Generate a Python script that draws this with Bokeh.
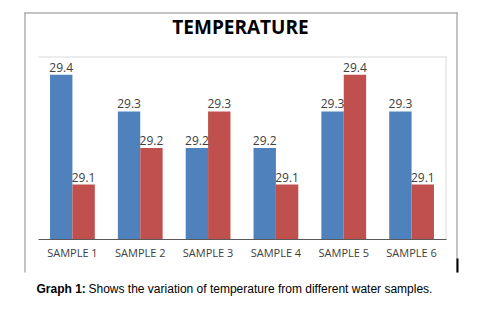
from bokeh.plotting import figure
from bokeh.models import FactorRange, Range1d, ColumnDataSource, LabelSet, Label, BoxAnnotation
from bokeh.core.properties import value
from bokeh.transform import dodge
from bokeh.embed import file_html
from bokeh.resources import INLINE

samples = ["SAMPLE 1", "SAMPLE 2", "SAMPLE 3", "SAMPLE 4", "SAMPLE 5", "SAMPLE 6"]
series_a = [29.4, 29.3, 29.2, 29.2, 29.3, 29.3]
series_b = [29.1, 29.2, 29.3, 29.1, 29.4, 29.1]
title_text = "TEMPERATURE"
caption_bold = "Graph 1:"
caption_rest = "Shows the variation of temperature from different water samples."

BLUE = "#4F81BD"
RED = "#C0504D"

W, H = 480, 316
# plot area in canvas pixels
PA_L, PA_R, PA_T, PA_B = 38, 445, 56, 239
V_MIN, V_MAX = 28.95, 29.45
per_px = (V_MAX - V_MIN) / (PA_B - PA_T)
Y_TOP = V_MAX + PA_T * per_px
Y_BOT = V_MIN - (H - PA_B) * per_px

cat_w = (PA_R - PA_L) / len(samples)
pad_side = (W - PA_R) / cat_w
left_border = PA_L - pad_side * cat_w

src = ColumnDataSource(dict(
    x=samples, a=series_a, b=series_b,
    la=[f"{v:.1f}" for v in series_a], lb=[f"{v:.1f}" for v in series_b],
))

p = figure(x_range=FactorRange(*samples, range_padding=pad_side, range_padding_units="absolute"),
           y_range=Range1d(Y_BOT, Y_TOP),
           width=W, height=H, toolbar_location=None, output_backend="svg",
           min_border_left=int(round(left_border)), min_border_right=0,
           min_border_top=0, min_border_bottom=0)
p.title.visible = False
p.axis.visible = False
p.background_fill_color = "white"
p.border_fill_color = "white"
p.outline_line_color = None
p.xgrid.visible = False
p.ygrid.visible = False

p.vbar(x=dodge("x", -0.165, range=p.x_range), top="a", bottom=V_MIN, width=0.33,
       source=src, fill_color=BLUE, line_color=None)
p.vbar(x=dodge("x", 0.165, range=p.x_range), top="b", bottom=V_MIN, width=0.33,
       source=src, fill_color=RED, line_color=None)

for col, lab, off in (("a", "la", -0.165), ("b", "lb", 0.165)):
    p.add_layout(LabelSet(x=dodge("x", off, range=p.x_range), y=col, text=lab, source=src,
                          text_align="center", text_baseline="alphabetic", y_offset=3,
                          text_font=value("Open Sans"), text_font_size="12px",
                          text_color="#404040"))

# category labels under the baseline
p.add_layout(LabelSet(x="x", y=252, y_units="canvas", text="x", source=src,
                      text_align="center", text_baseline="middle",
                      text_font=value("Open Sans"), text_font_size="11px",
                      text_color="#404040"))

def line_box(left, right, top, bottom, color):
    return BoxAnnotation(left=left, right=right, top=top, bottom=bottom,
                         left_units="canvas", right_units="canvas",
                         top_units="canvas", bottom_units="canvas",
                         fill_color=color, fill_alpha=1.0, line_color=None)

# outer chart border (top, left, right)
p.add_layout(line_box(24, 457, 12, 13, "#8C8C8C"))
p.add_layout(line_box(24, 25, 12, 272, "#8C8C8C"))
p.add_layout(line_box(456, 457, 12, 272, "#8C8C8C"))
p.add_layout(line_box(456, 458, 258, 272, "#000000"))
# plot area border (top, right) and category axis line
p.add_layout(line_box(PA_L, PA_R + 1, PA_T, PA_T + 1, "#D9D9D9"))
p.add_layout(line_box(PA_R, PA_R + 1, PA_T, PA_B, "#D9D9D9"))
p.add_layout(line_box(PA_L, PA_R + 1, PA_B - 0.5, PA_B + 0.5, "#595959"))

p.add_layout(Label(x=240, y=26, x_units="canvas", y_units="canvas", text=title_text,
                   text_align="center", text_baseline="middle", text_font="Open Sans",
                   text_font_style="bold", text_font_size="19px", text_color="#000000"))
p.add_layout(Label(x=36, y=288, x_units="canvas", y_units="canvas", text=caption_bold,
                   text_align="left", text_baseline="middle", text_font="Liberation Sans",
                   text_font_style="bold", text_font_size="12px", text_color="#000000"))
p.add_layout(Label(x=88, y=288, x_units="canvas", y_units="canvas", text=caption_rest,
                   text_align="left", text_baseline="middle", text_font="Liberation Sans",
                   text_font_size="12px", text_color="#000000"))

open("out.html", "w").write(file_html(p, INLINE))
